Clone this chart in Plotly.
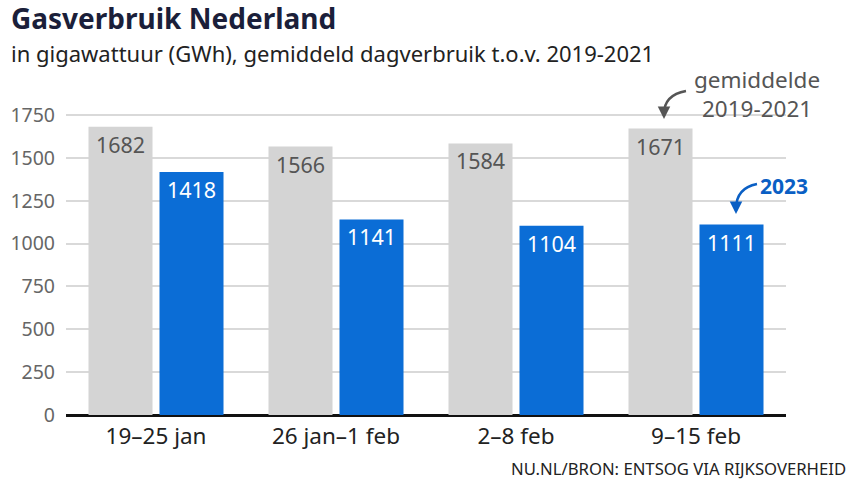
import plotly.graph_objects as go

categories = ["19–25 jan", "26 jan–1 feb", "2–8 feb", "9–15 feb"]
avg_2019_2021 = [1682, 1566, 1584, 1671]
values_2023 = [1418, 1141, 1104, 1111]
y_ticks = [0, 250, 500, 750, 1000, 1250, 1500, 1750]

W, H = 854, 480
L, R, T, B = 66, 68, 100, 65
PW, PH = W - L - R, H - T - B

def px(x, y):
    return (x - L) / PW, (H - B - y) / PH

FONT = "Noto Sans"
GRAY_BAR = "#d4d4d4"
BLUE = "#0b6dd6"

fig = go.Figure()
fig.add_trace(go.Bar(
    x=categories, y=avg_2019_2021, name="gemiddelde 2019-2021",
    marker=dict(color=GRAY_BAR, line=dict(width=0)),
    text=[str(v) for v in avg_2019_2021], textposition="inside",
    insidetextanchor="end", textangle=0,
    textfont=dict(family=FONT, size=21.5, color="#555555"),
    cliponaxis=False,
))
fig.add_trace(go.Bar(
    x=categories, y=values_2023, name="2023",
    marker=dict(color=BLUE, line=dict(width=0)),
    text=[str(v) for v in values_2023], textposition="inside",
    insidetextanchor="end", textangle=0,
    textfont=dict(family=FONT, size=21.5, color="white"),
    cliponaxis=False,
))

max_y = 1750 * PH / 300

fig.update_layout(
    width=W, height=H,
    margin=dict(l=L, r=R, t=T, b=B, pad=0, autoexpand=False),
    paper_bgcolor="white", plot_bgcolor="white",
    barmode="group", bargap=0.211, bargroupgap=0.0986,
    showlegend=False,
    uniformtext=dict(minsize=21, mode="show"),
    font=dict(family=FONT),
    xaxis=dict(
        type="category", range=[-0.5, 3.5], showgrid=False, ticks="",
        tickfont=dict(family=FONT, size=22.5, color="#222222"),
        ticklabelstandoff=5,
        showline=False, zeroline=False, fixedrange=True, automargin=False,
    ),
    yaxis=dict(
        range=[0, max_y], tickvals=y_ticks, ticktext=[str(v) for v in y_ticks],
        showgrid=True, gridcolor="#d9d9d9", gridwidth=2,
        zeroline=True, zerolinecolor="#111111", zerolinewidth=3,
        tickfont=dict(family=FONT, size=19.5, color="#666666"),
        ticks="", ticklabelstandoff=10, showline=False, automargin=False,
    ),
)

annotations = []
# Title and subtitle
annotations.append(dict(
    xref="paper", yref="paper", x=px(9, 0)[0], y=px(0, 18)[1],
    xanchor="left", yanchor="middle", showarrow=False,
    text="<b>Gasverbruik Nederland</b>",
    font=dict(family=FONT, size=28, color="#1b1f3a"),
))
annotations.append(dict(
    xref="paper", yref="paper", x=px(9, 0)[0], y=px(0, 53)[1],
    xanchor="left", yanchor="middle", showarrow=False,
    text="in gigawattuur (GWh), gemiddeld dagverbruik t.o.v. 2019-2021",
    font=dict(family=FONT, size=22, color="#222222"),
))
# Source
annotations.append(dict(
    xref="paper", yref="paper", x=px(848, 0)[0], y=px(0, 468)[1],
    xanchor="right", yanchor="middle", showarrow=False,
    text="NU.NL/BRON: ENTSOG VIA RIJKSOVERHEID",
    font=dict(family=FONT, size=16.7, color="#222222"),
))
# Series labels
annotations.append(dict(
    xref="paper", yref="paper", x=px(757, 0)[0], y=px(0, 94)[1],
    xanchor="center", yanchor="middle", showarrow=False,
    text="gemiddelde<br>2019-2021",
    font=dict(family=FONT, size=22.5, color="#555555"),
))
annotations.append(dict(
    xref="paper", yref="paper", x=px(784, 0)[0], y=px(0, 186)[1],
    xanchor="center", yanchor="middle", showarrow=False,
    text="<b>2023</b>",
    font=dict(family=FONT, size=21, color="#0a5fc4"),
))

def curve(p0, c, p1, color):
    a = px(*p0); b = px(*c); d = px(*p1)
    fig.add_shape(type="path", xref="paper", yref="paper",
                  path=f"M {a[0]},{a[1]} Q {b[0]},{b[1]} {d[0]},{d[1]}",
                  line=dict(color=color, width=2.5))
    tip = px(p1[0], p1[1] + 5)
    annotations.append(dict(
        xref="paper", yref="paper", x=tip[0], y=tip[1], ax=0, ay=-9,
        axref="pixel", ayref="pixel", text="", showarrow=True,
        arrowhead=2, arrowsize=1, arrowwidth=2.5, arrowcolor=color,
    ))

curve((686, 91), (664, 95), (664, 114), "#555555")
curve((757, 184), (736, 188), (736, 209), "#0a5fc4")

fig.update_layout(annotations=annotations)
fig.write_html(
    "out.html",
    config={"displayModeBar": False, "staticPlot": True},
    post_script="document.body.style.margin='0';document.body.style.overflow='hidden';",
)
